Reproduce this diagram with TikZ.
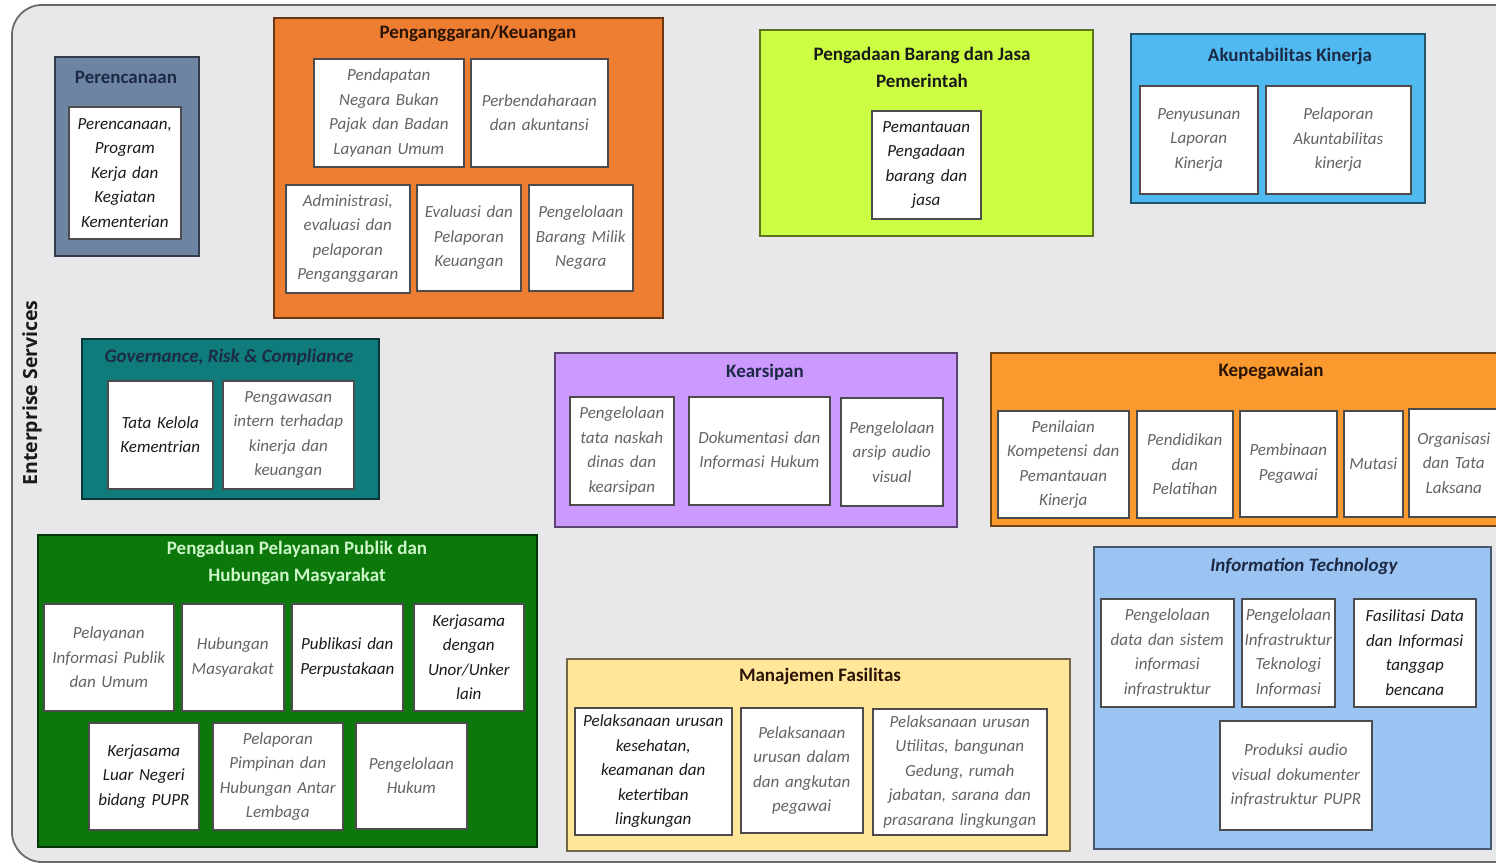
\documentclass[tikz,border=0pt]{standalone}
\usepackage{fontspec}
\setmainfont{Carlito}
\newfontfamily\sidefont{Open Sans}
\usetikzlibrary{shadows}

\definecolor{pagebg}{HTML}{E8E7EA}
\definecolor{framec}{HTML}{6A6A6A}
\definecolor{txtgrey}{HTML}{646464}
\definecolor{txtdark}{HTML}{1A1A1A}
\definecolor{cPlan}{HTML}{6E84A3}
\definecolor{cBudget}{HTML}{ED7D31}
\definecolor{cProc}{HTML}{CCFF44}
\definecolor{cAcc}{HTML}{50B9F0}
\definecolor{cGov}{HTML}{0F7B7B}
\definecolor{cArch}{HTML}{CC99FF}
\definecolor{cStaff}{HTML}{F9992E}
\definecolor{cPub}{HTML}{0C780C}
\definecolor{cFac}{HTML}{FFE699}
\definecolor{cIT}{HTML}{9BC4F2}
\definecolor{tNavy}{HTML}{1C2A45}
\definecolor{tBrown}{HTML}{2A1405}
\definecolor{tLight}{HTML}{CDF5C8}

\tikzset{
  grp/.style={draw=#1!45!black, fill=#1, line width=1.6pt, anchor=north west,
              inner sep=0pt, rectangle},
  unit/.style={draw=black!70, fill=white, line width=1.6pt, anchor=north west,
               inner sep=0pt, rectangle, align=center,
               drop shadow={shadow xshift=1.2pt, shadow yshift=-1.2pt, opacity=0.35},
               font=\itshape\fontsize{17}{24.5}\selectfont},
  soft/.style={text=txtgrey},
  hard/.style={text=txtdark},
  ttl/.style={font=\bfseries\fontsize{19}{27}\selectfont, align=center, inner sep=0pt},
}

% group panel: name, x1, y1, x2, y2, colour
\newcommand{\panel}[6]{%
  \node[grp=#6, minimum width={#4-#2}, minimum height={#5-#3}] (#1) at (#2,#3) {};}
% white service box: name, x1, y1, x2, y2, text style, text
\newcommand{\svc}[7]{%
  \node[unit, #6, minimum width={#4-#2}, minimum height={#5-#3},
        text width={#4-#2-4}] (#1) at (#2,#3) {#7};}

\begin{document}
\begin{tikzpicture}[x=1pt, y=-1pt]
  \useasboundingbox (0,0) rectangle (1496,867);
  \clip (0,0) rectangle (1496,867);
  \fill[white] (0,0) rectangle (1496,867);

  % outer frame
  \draw[fill=pagebg, draw=framec, line width=1.8pt, rounded corners=30pt]
    (12,5) rectangle (1540,862);
  \node[rotate=90, font=\sidefont\bfseries\fontsize{19.5}{22}\selectfont, text=txtdark,
        inner sep=0pt] (side) at (32,393) {Enterprise Services};

  % ---------- Perencanaan ----------
  \panel{plan}{54}{56}{198}{255}{cPlan}
  \node[ttl, text=tNavy] (planT) at (126,77) {Perencanaan};
  \svc{plan1}{68}{106}{180}{238}{hard}{Perencanaan,\\Program\\Kerja dan\\Kegiatan\\Kementerian}

  % ---------- Penganggaran/Keuangan ----------
  \panel{bud}{273}{17}{662}{317}{cBudget}
  \node[ttl, text=tBrown] (budT) at (478,33) {Penganggaran/Keuangan};
  \svc{bud1}{313}{58}{463}{166}{soft}{Pendapatan\\Negara Bukan\\Pajak dan Badan\\Layanan Umum}
  \svc{bud2}{470}{58}{607}{166}{soft}{Perbendaharaan\\dan akuntansi}
  \svc{bud3}{285}{184}{409}{292}{soft}{Administrasi,\\evaluasi dan\\pelaporan\\Penganggaran}
  \svc{bud4}{416}{184}{520}{290}{soft}{Evaluasi dan\\Pelaporan\\Keuangan}
  \svc{bud5}{528}{184}{632}{290}{soft}{Pengelolaan\\Barang Milik\\Negara}

  % ---------- Pengadaan ----------
  \panel{proc}{759}{29}{1092}{235}{cProc}
  \node[ttl, text=txtdark] (procT) at (922,67.5) {Pengadaan Barang dan Jasa\\Pemerintah};
  \svc{proc1}{871}{110}{980}{218}{hard}{Pemantauan\\Pengadaan\\barang dan\\jasa}

  % ---------- Akuntabilitas Kinerja ----------
  \panel{acc}{1130}{33}{1424}{202}{cAcc}
  \node[ttl, text=tNavy] (accT) at (1290,56) {Akuntabilitas Kinerja};
  \svc{acc1}{1139}{85}{1257}{193}{soft}{Penyusunan\\Laporan\\Kinerja}
  \svc{acc2}{1265}{85}{1410}{193}{soft}{Pelaporan\\Akuntabilitas\\kinerja}

  % ---------- Governance, Risk & Compliance ----------
  \panel{gov}{81}{338}{378}{498}{cGov}
  \node[ttl, text=tNavy, font=\bfseries\itshape\fontsize{19}{27}\selectfont] (govT) at (229,357)
    {Governance, Risk \& Compliance};
  \svc{gov1}{107}{380}{212}{488}{hard}{Tata Kelola\\Kementrian}
  \svc{gov2}{222}{380}{353}{488}{soft}{Pengawasan\\intern terhadap\\kinerja dan\\keuangan}

  % ---------- Kearsipan ----------
  \panel{arch}{554}{352}{956}{526}{cArch}
  \node[ttl, text=tNavy] (archT) at (765,372) {Kearsipan};
  \svc{arch1}{569}{396}{673}{504}{soft}{Pengelolaan\\tata naskah\\dinas dan\\kearsipan}
  \svc{arch2}{688}{396}{829}{504}{soft}{Dokumentasi dan\\Informasi Hukum}
  \svc{arch3}{840}{397}{942}{505}{soft}{Pengelolaan\\arsip audio\\visual}

  % ---------- Kepegawaian ----------
  \panel{staff}{990}{352}{1510}{525}{cStaff}
  \node[ttl, text=tBrown] (staffT) at (1271,371) {Kepegawaian};
  \svc{staff1}{997}{410}{1128}{517}{soft}{Penilaian\\Kompetensi dan\\Pemantauan\\Kinerja}
  \svc{staff2}{1136}{410}{1232}{517}{soft}{Pendidikan\\dan\\Pelatihan}
  \svc{staff3}{1239}{410}{1336}{516}{soft}{Pembinaan\\Pegawai}
  \svc{staff4}{1343}{410}{1402}{516}{soft}{Mutasi}
  \svc{staff5}{1408}{408}{1498}{516}{soft}{Organisasi\\dan Tata\\Laksana}

  % ---------- Pengaduan Pelayanan Publik ----------
  \panel{pub}{37}{534}{536}{846}{cPub}
  \node[ttl, text=tLight] (pubT) at (297,562.5) {Pengaduan Pelayanan Publik dan\\Hubungan Masyarakat};
  \svc{pub1}{43}{603}{173}{710}{soft}{Pelayanan\\Informasi Publik\\dan Umum}
  \svc{pub2}{181}{603}{283}{710}{soft}{Hubungan\\Masyarakat}
  \svc{pub3}{291}{603}{402}{710}{hard}{Publikasi dan\\Perpustakaan}
  \svc{pub4}{413}{603}{523}{710}{hard}{Kerjasama\\dengan\\Unor/Unker\\lain}
  \svc{pub5}{88}{722}{198}{829}{hard}{Kerjasama\\Luar Negeri\\bidang PUPR}
  \svc{pub6}{212}{722}{342}{829}{soft}{Pelaporan\\Pimpinan dan\\Hubungan Antar\\Lembaga}
  \svc{pub7}{355}{722}{466}{828}{soft}{Pengelolaan\\Hukum}

  % ---------- Manajemen Fasilitas ----------
  \panel{fac}{566}{658}{1069}{850}{cFac}
  \node[ttl, text=tBrown] (facT) at (820,676) {Manajemen Fasilitas};
  \svc{fac1}{574}{707}{731}{834}{hard}{Pelaksanaan urusan\\kesehatan,\\keamanan dan\\ketertiban\\lingkungan}
  \svc{fac2}{740}{707}{862}{832}{soft}{Pelaksanaan\\urusan dalam\\dan angkutan\\pegawai}
  \svc{fac3}{872}{708}{1046}{834}{soft}{Pelaksanaan urusan\\Utilitas, bangunan\\Gedung, rumah\\jabatan, sarana dan\\prasarana lingkungan}

  % ---------- Information Technology ----------
  \panel{it}{1093}{546}{1490}{848}{cIT}
  \node[ttl, text=tNavy, font=\bfseries\itshape\fontsize{19}{27}\selectfont] (itT) at (1304,566)
    {Information Technology};
  \svc{it1}{1100}{598}{1233}{706}{soft}{Pengelolaan\\data dan sistem\\informasi\\infrastruktur}
  \svc{it2}{1241}{598}{1334}{706}{soft}{Pengelolaan\\Infrastruktur\\Teknologi\\Informasi}
  \svc{it3}{1353}{598}{1475}{706}{hard}{Fasilitasi Data\\dan Informasi\\tanggap\\bencana}
  \svc{it4}{1219}{720}{1371}{829}{soft}{Produksi audio\\visual dokumenter\\infrastruktur PUPR}
\end{tikzpicture}
\end{document}
